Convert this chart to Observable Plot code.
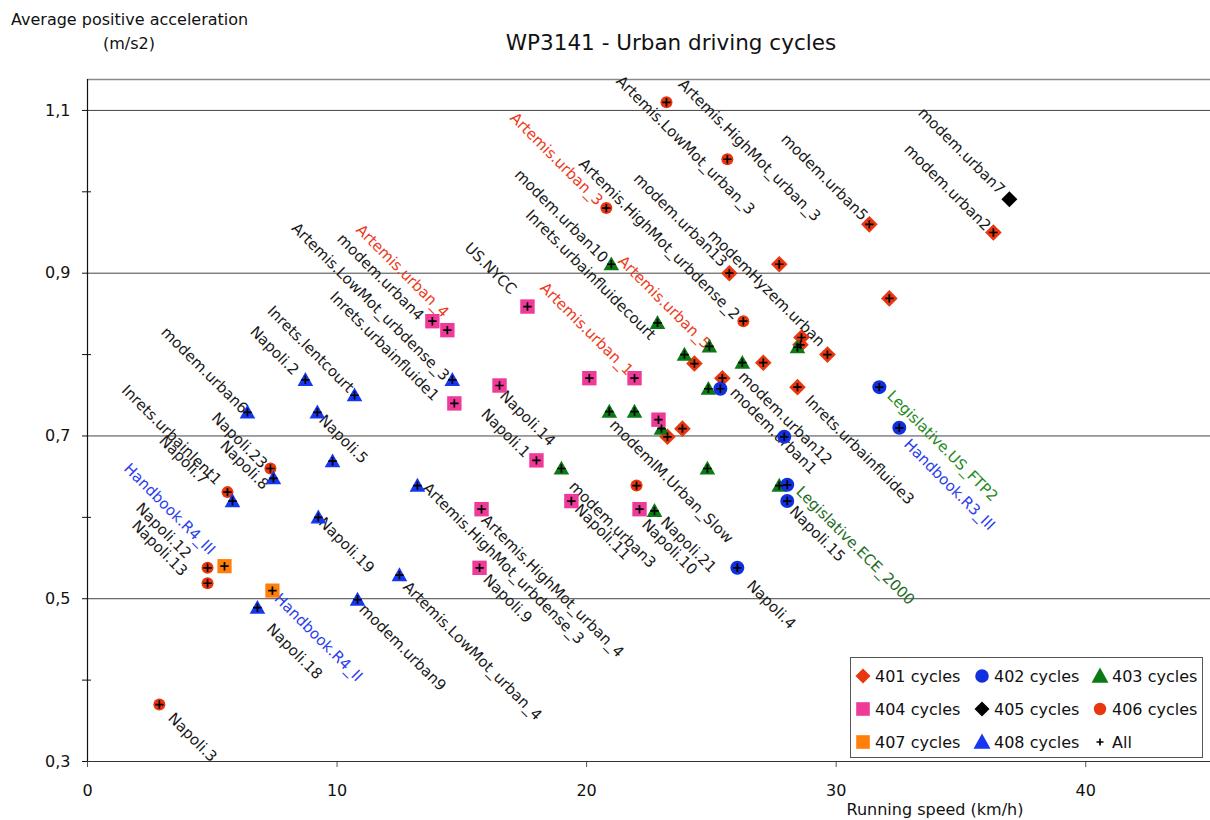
<!DOCTYPE html>
<html><head><meta charset="utf-8">
<script src="https://cdn.jsdelivr.net/npm/d3@7"></script>
<script src="https://cdn.jsdelivr.net/npm/@observablehq/plot@0.6"></script>
<style>
body{margin:0;background:#fff;}
#wrap{position:relative;width:1210px;height:820px;overflow:hidden;background:#fff;}
</style></head><body><div id="wrap"></div>
<script>
// ---------------- DATA ----------------
const cycleFamily = [
  "401","401","401","401","401","401","401","401","401","401","401","401","401","401",
  "402","402","402","402","402","402","402",
  "403","403","403","403","403","403","403","403","403","403","403","403","403","403",
  "404","404","404","404","404","404","404","404","404","404","404","404","404",
  "405",
  "406","406","406","406","406","406","406","406","406","406",
  "407","407",
  "408","408","408","408","408","408","408","408","408","408","408","408","408"
];
const cycleName = [
  "modem.urban5","modem.urban2","modem.urban13","modemHyzem.urban",null,null,null,null,null,null,"modem.urban12","Inrets.urbainfluide3",null,null,
  "modem.urban1",null,"Legislative.ECE_2000","Napoli.15","Napoli.4","Legislative.US_FTP2","Handbook.R3_III",
  "modem.urban10","Inrets.urbainfluidecourt",null,"Artemis.urban_5",null,null,null,"modemIM.Urban_Slow",null,null,null,"modem.urban3",null,"Napoli.21",
  "modem.urban4","Artemis.urban_4","US.NYCC","Napoli.14","Inrets.urbainfluide1",null,"Artemis.urban_1",null,"Napoli.1","Napoli.11","Artemis.HighMot_urban_4","Napoli.10","Napoli.9",
  "modem.urban7",
  "Artemis.LowMot_urban_3","Artemis.HighMot_urban_3","Artemis.urban_3","Artemis.HighMot_urbdense_2",null,"Napoli.23","Inrets.urbainlent1","Napoli.12","Napoli.13","Napoli.3",
  "Handbook.R4_III","Handbook.R4_II",
  "Napoli.2","Inrets.lentcourt","modem.urban6","Napoli.5",null,"Artemis.LowMot_urbdense_3","Artemis.HighMot_urbdense_3","Napoli.8","Napoli.7","Napoli.19","Napoli.18","modem.urban9","Artemis.LowMot_urban_4"
];
const runningSpeed = [
  31.33,36.30,25.72,27.72,32.13,28.61,28.57,29.65,27.08,24.32,25.44,28.45,23.24,23.84,
  25.36,27.92,28.04,28.04,26.04,31.73,32.53,
  20.99,22.84,23.92,24.92,26.24,28.45,24.88,20.91,21.92,23.00,24.84,18.99,27.72,22.72,
  13.82,14.42,17.63,16.51,14.70,20.11,21.92,22.88,17.99,19.39,15.79,22.12,15.71,
  36.94,
  23.20,25.64,20.79,26.28,22.00,7.33,5.61,4.81,4.81,2.88,
  5.49,7.41,
  8.73,10.70,6.41,9.21,9.82,14.62,13.22,7.45,5.81,9.25,6.81,10.82,12.50
];
const avgPosAccel = [
  0.960,0.950,0.900,0.911,0.869,0.821,0.812,0.800,0.790,0.789,0.771,0.760,0.699,0.709,
  0.758,0.699,0.640,0.620,0.538,0.760,0.710,
  0.911,0.839,0.800,0.810,0.790,0.809,0.758,0.730,0.730,0.709,0.660,0.660,0.639,0.608,
  0.841,0.830,0.859,0.762,0.740,0.771,0.771,0.720,0.670,0.620,0.610,0.610,0.538,
  0.991,
  1.110,1.040,0.980,0.841,0.639,0.660,0.631,0.538,0.519,0.370,
  0.540,0.510,
  0.769,0.750,0.729,0.729,0.669,0.769,0.639,0.648,0.620,0.600,0.489,0.499,0.529
];
const legendFamilies = ["401","402","403","404","405","406","407","408","All"];
const legendLabels = ["401 cycles","402 cycles","403 cycles","404 cycles","405 cycles","406 cycles","407 cycles","408 cycles","All"];
const xTicks = [0,10,20,30,40];
const yTicks = [0.3,0.5,0.7,0.9,1.1];
const yMinorTicks = [0.4,0.6,0.8,1.0];
const xDomain = [0,45];
const yDomain = [0.3,1.138];

// ---------------- LAYOUT (label nudges in px, aligned with data) ----------------
const labelNudge = [
  [-45,-47],[-46,-45],[-49,-53],[-13,24],null,null,null,null,null,null,[63,40],[62,63],null,null,
  [53,42],null,[68,61],[30,33],[34,37],[63,59],[50,57],
  [-50,-48],[-67,-48],null,[-45,-44],null,null,null,[62,70],null,null,null,[51,56],null,[34,34],
  [-52,-44],[-45,-59],[-37,-38],[28,33],[-70,-57],null,[-48,-49],null,[-31,-27],[31,31],[71,77],[30,38],[28,31],
  [-48,-48],
  [19,43],[22,-9],[-50,-49],[-84,-82],null,[-31,-28],[-56,-57],[-44,-37],[-48,-35],[33,33],
  [-55,-57],[46,47],
  [-31,-29],[-44,-46],[-43,-42],[26,27],null,[-82,-78],[86,78],[-29,-13],[-49,-41],[28,28],[37,44],[45,48],[73,76]
];

// ---------------- STYLE ----------------
const FONT = "DejaVu Sans, Verdana, sans-serif";
const shape = {
  diamond: {draw(ctx, size){const r=Math.sqrt(size/Math.PI); ctx.moveTo(0,-r); ctx.lineTo(r,0); ctx.lineTo(0,r); ctx.lineTo(-r,0); ctx.closePath();}},
  square: {draw(ctx, size){const r=Math.sqrt(size/Math.PI); ctx.rect(-r,-r,2*r,2*r);}},
  triangle: {draw(ctx, size){const r=Math.sqrt(size/Math.PI); ctx.moveTo(0,-r); ctx.lineTo(r,0.78*r); ctx.lineTo(-r,0.78*r); ctx.closePath();}},
  circle: {draw(ctx, size){const r=Math.sqrt(size/Math.PI); ctx.moveTo(r,0); ctx.arc(0,0,r,0,2*Math.PI);}},
  plus: {draw(ctx, size){const r=Math.sqrt(size/Math.PI); ctx.moveTo(-r,0); ctx.lineTo(r,0); ctx.moveTo(0,-r); ctx.lineTo(0,r);}}
};
const famStyle = {
  "401": {symbol: shape.diamond, fill: "#e8360e", r: 8.3},
  "402": {symbol: shape.circle, fill: "#1030e0", r: 7},
  "403": {symbol: shape.triangle, fill: "#0b7a16", r: 7.8},
  "404": {symbol: shape.square, fill: "#f03a9a", r: 7.2},
  "405": {symbol: shape.diamond, fill: "#000000", r: 8},
  "406": {symbol: shape.circle, fill: "#e8360e", r: 6},
  "407": {symbol: shape.square, fill: "#ff7f0a", r: 7.1},
  "408": {symbol: shape.triangle, fill: "#1537f0", r: 7.8}
};
function labelColor(name){
  if (/^Artemis\.urban_/.test(name)) return "#ee3a1c";
  if (/^Handbook/.test(name)) return "#2a40ee";
  if (name === "Legislative.US_FTP2") return "#1f8a1f";
  if (/^Legislative/.test(name)) return "#1e6b1e";
  return "#1a1a1a";
}
const fmt = d => d.toFixed(1).replace(".", ",");

// ---------------- BUILD ----------------
const rows = cycleName.map((name, i) => ({name, x: runningSpeed[i], y: avgPosAccel[i], fam: cycleFamily[i], nudge: labelNudge[i]}));

const labelMarks = rows.filter(d => d.name).map(d => Plot.text([d], {
  x: "x", y: "y", text: "name", rotate: 45, textAnchor: "middle",
  dx: d.nudge[0], dy: d.nudge[1], fill: labelColor(d.name), fontSize: 15
}));
const drawOrder = ["401","403","404","402","405","406","407","408"];
const dotMarks = drawOrder.map(f => Plot.dot(rows.filter(d => d.fam === f), {
  x: "x", y: "y", symbol: famStyle[f].symbol, r: famStyle[f].r, fill: famStyle[f].fill
}));

const chart = Plot.plot({
  width: 1210, height: 820,
  marginLeft: 87, marginRight: 0, marginTop: 79, marginBottom: 59,
  x: {domain: xDomain, label: null},
  y: {domain: yDomain, label: null},
  style: {fontFamily: FONT, fontSize: "16px", background: "#fff", color: "#111"},
  marks: [
    Plot.gridY(yTicks.slice(1), {stroke: "#444", strokeOpacity: 1, strokeWidth: 1}),
    Plot.ruleY([yDomain[1]], {stroke: "#8a8a8a", strokeWidth: 1.5}),
    Plot.axisX({ticks: xTicks, tickSize: 6, tickPadding: 17, tickFormat: d => String(d), label: null, stroke: "#555"}),
    Plot.axisY({ticks: yTicks, tickSize: 5, tickPadding: 12, tickFormat: fmt, label: null}),
    Plot.axisY({ticks: yMinorTicks, tickSize: 9, dx: 4, tickFormat: () => "", label: null}),
    Plot.ruleX([xDomain[0]], {stroke: "#111", strokeWidth: 1.2}),
    Plot.ruleY([yDomain[0]], {stroke: "#333", strokeWidth: 1.2}),
    ...labelMarks,
    ...dotMarks,
    Plot.dot(rows, {x: "x", y: "y", symbol: shape.plus, r: 4.2, stroke: "#000", strokeWidth: 1.7})
  ]
});
document.getElementById("wrap").appendChild(chart);

// ---------------- TITLES & LEGEND ----------------
const svg = d3.select(chart);
const g = svg.append("g").attr("font-family", FONT).attr("fill", "#111");
g.append("text").attr("x", 11).attr("y", 25).attr("font-size", 16).attr("text-anchor", "start").text("Average positive acceleration");
g.append("text").attr("x", 129).attr("y", 49).attr("font-size", 16).attr("text-anchor", "middle").text("(m/s2)");
g.append("text").attr("x", 671).attr("y", 50).attr("font-size", 21.5).attr("text-anchor", "middle").text("WP3141 - Urban driving cycles");
g.append("text").attr("x", 935).attr("y", 815).attr("font-size", 16).attr("text-anchor", "middle").text("Running speed (km/h)");

const lg = svg.append("g").attr("font-family", FONT).attr("font-size", 16).attr("text-anchor", "start");
lg.append("rect").attr("x", 850.5).attr("y", 657.5).attr("width", 352).attr("height", 100)
  .attr("fill", "#fff").attr("stroke", "#555").attr("stroke-width", 1);
const colX = [863, 982, 1100], rowY = [676, 709, 742];
legendFamilies.forEach((f, i) => {
  const cx = colX[i % 3], cy = rowY[Math.floor(i / 3)];
  if (f === "All") {
    lg.append("path").attr("transform", `translate(${cx},${cy})`)
      .attr("d", d3.symbol(shape.plus, Math.PI * 3.5 * 3.5)()).attr("stroke", "#000").attr("stroke-width", 1.7).attr("fill", "none");
  } else {
    const s = famStyle[f];
    const rr = (f === "403" || f === "408") ? 8.5 : (f === "406" ? 6.2 : (f === "401" || f === "405") ? 7.5 : 6.8);
    lg.append("path").attr("transform", `translate(${cx},${cy})`)
      .attr("d", d3.symbol(s.symbol, Math.PI * rr * rr)()).attr("fill", s.fill);
  }
  lg.append("text").attr("x", cx + 12).attr("y", cy).attr("dy", "0.36em").attr("text-anchor", "start").attr("fill", "#111").text(legendLabels[i]);
});
</script></body></html>
